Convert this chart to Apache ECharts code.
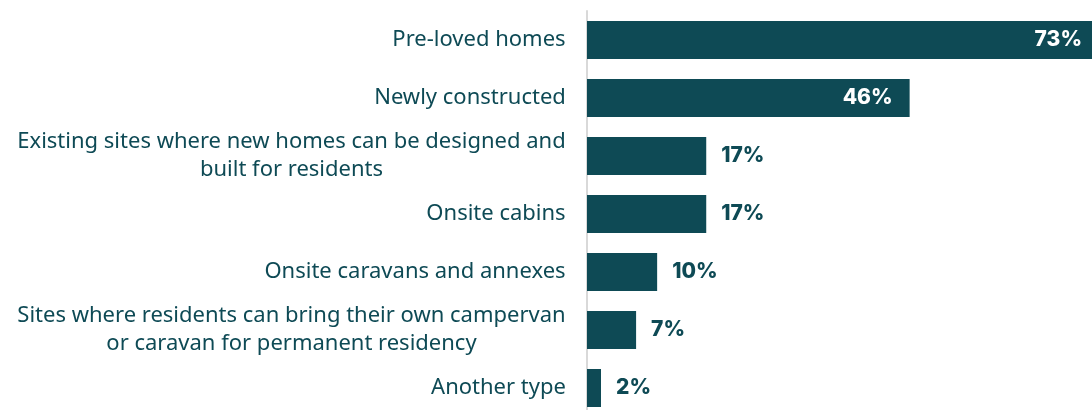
<!DOCTYPE html>
<html>
<head>
<meta charset="utf-8">
<style>
  html, body { margin: 0; padding: 0; background: #ffffff; }
  #chart { width: 1092px; height: 410px; }
</style>
<script src="https://cdn.jsdelivr.net/npm/echarts@6/dist/echarts.min.js"></script>
</head>
<body>
<div id="chart"></div>
<script>
// Housing types, listed top to bottom
const categories = [
  'Pre-loved homes',
  'Newly constructed',
  'Existing sites where new homes can be designed and\nbuilt for residents',
  'Onsite cabins',
  'Onsite caravans and annexes',
  'Sites where residents can bring their own campervan\nor caravan for permanent residency',
  'Another type'
];
// Share of responses (%)
const shares = [73, 46, 17, 17, 10, 7, 2];
// Bars long enough to carry their label inside
const insideLabelMin = 40;

const TEAL = '#0e4a55';
const CAT_FONT = '"Noto Sans", sans-serif';
const CAT_SIZE = 22;

// Multi-line category names are centred line by line inside a box as wide as their longest line
const measureCtx = document.createElement('canvas').getContext('2d');
measureCtx.font = CAT_SIZE + 'px ' + CAT_FONT;
const rich = {};
categories.forEach((name, i) => {
  const w = Math.max(...name.split('\n').map(l => measureCtx.measureText(l).width));
  rich['c' + i] = {
    width: Math.ceil(w),
    align: 'center',
    fontFamily: CAT_FONT,
    fontSize: CAT_SIZE,
    lineHeight: 28,
    color: TEAL
  };
});

const chart = echarts.init(document.getElementById('chart'), null, { renderer: 'canvas' });
chart.setOption({
  animation: false,
  grid: {
    left: 587, top: 11, width: 512, height: 406,
    containLabel: false,
    outerBoundsMode: 'none'
  },
  xAxis: {
    type: 'value', min: 0, max: 73,
    show: false
  },
  yAxis: {
    type: 'category',
    inverse: true,
    data: categories,
    axisLine: { show: true, lineStyle: { color: '#d9d9d9', width: 2 } },
    axisTick: { show: false },
    axisLabel: {
      margin: 21,
      formatter: (val, idx) => val.split('\n').map(l => '{c' + idx + '|' + l + '}').join('\n'),
      rich: rich
    }
  },
  series: [{
    type: 'bar',
    barWidth: 38,
    itemStyle: { color: TEAL },
    data: shares.map(v => ({
      value: v,
      label: v >= insideLabelMin
        ? { position: 'insideRight', distance: 17, color: '#ffffff' }
        : { position: 'right', distance: 15, color: TEAL }
    })),
    label: {
      show: true,
      formatter: '{c}%',
      fontFamily: 'Inter, sans-serif',
      fontWeight: 800,
      fontSize: 21
    }
  }]
});
</script>
</body>
</html>
